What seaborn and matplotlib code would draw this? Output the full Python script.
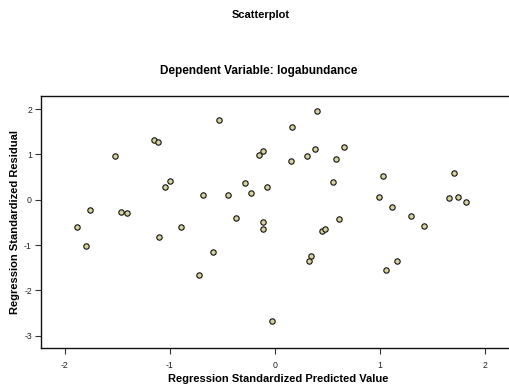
import matplotlib
matplotlib.use("Agg")
import matplotlib.pyplot as plt
import seaborn as sns
import pandas as pd

predicted = [-1.883, -1.754, -1.516, -1.462, -1.409, -1.152, -1.107, -1.048, -0.998, -1.104,
             -0.888, -0.678, -0.527, -0.448, -0.367, -0.285, -0.222, -0.153, -1.795, -0.589,
             -0.716, -0.109, -0.075, -0.109, -0.109, 0.164, 0.160, 0.402, 0.311, 0.380,
             0.656, 0.581, 0.553, 0.616, 0.452, 0.477, 1.030, 0.998, 1.118, 1.297,
             1.422, 1.711, 1.657, 1.745, 1.821, 0.349, 0.327, 1.168, 1.058, -0.025]
residual = [-0.60, -0.23, 0.97, -0.26, -0.29, 1.31, 1.27, 0.28, 0.41, -0.82,
            -0.61, 0.10, 1.76, 0.11, -0.40, 0.38, 0.14, 0.99, -1.01, -1.15,
            -1.67, 1.08, 0.29, -0.49, -0.64, 1.61, 0.85, 1.96, 0.96, 1.11,
            1.16, 0.91, 0.40, -0.43, -0.69, -0.65, 0.53, 0.06, -0.15, -0.35,
            -0.57, 0.60, 0.05, 0.06, -0.05, -1.23, -1.35, -1.35, -1.55, -2.68]
x_ticks = [-2, -1, 0, 1, 2]
y_ticks = [-3, -2, -1, 0, 1, 2]

df = pd.DataFrame({"pred": predicted, "resid": residual})

sns.set_style("white")
plt.rcParams["font.family"] = ["Liberation Sans", "DejaVu Sans"]
plt.rcParams["text.color"] = "black"
plt.rcParams["axes.labelcolor"] = "black"

fig = plt.figure(figsize=(5.10, 3.87), dpi=100)
ax = fig.add_axes([41 / 510, 1 - 348 / 387, 1 - 41 / 510 + 0.01, (348 - 96) / 387])

sns.scatterplot(data=df, x="pred", y="resid", ax=ax, s=15, color="#d8d29c",
                edgecolor="#111111", linewidth=0.8, zorder=3)

ax.set_xlim(-2.225, 2.29)
ax.set_ylim(-3.27, 2.29)
ax.set_xticks(x_ticks)
ax.set_yticks(y_ticks)
ax.set_xticklabels([str(t) for t in x_ticks])
ax.set_yticklabels([str(t) for t in y_ticks])
ax.tick_params(axis="both", direction="out", length=4.5, width=0.8, color="#333333",
               labelsize=6.3, labelcolor="#222222", bottom=True, left=True)
ax.tick_params(axis="x", pad=5)
ax.tick_params(axis="y", pad=2)

for side in ["left", "bottom", "top"]:
    ax.spines[side].set_visible(True)
    ax.spines[side].set_color("#111111")
    ax.spines[side].set_linewidth(1.0)
ax.spines["right"].set_visible(False)

ax.set_xlabel("Regression Standardized Predicted Value", fontsize=8, fontweight="bold", labelpad=3)
ax.set_ylabel("Regression Standardized Residual", fontsize=8, fontweight="bold", labelpad=3)

fig.text(261 / 510, 1 - 14.5 / 387, "Scatterplot", ha="center", va="center",
         fontsize=8, fontweight="bold")
fig.text(259 / 510, 1 - 71 / 387, "Dependent Variable: logabundance", ha="center", va="center",
         fontsize=8.5, fontweight="bold")

fig.savefig("out.png", dpi=100)
